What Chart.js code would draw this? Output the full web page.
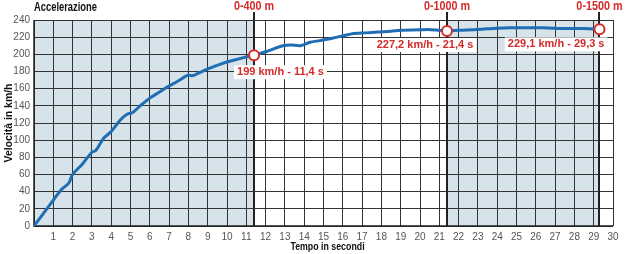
<!DOCTYPE html>
<html><head><meta charset="utf-8">
<script src="https://cdn.jsdelivr.net/npm/chart.js@4/dist/chart.umd.min.js"></script>
<style>html,body{margin:0;padding:0;background:#fff}#wrap{width:630px;height:254px}</style>
</head><body><div id="wrap"><canvas id="c" width="630" height="254"></canvas></div>
<script>
const times =  [0,0.5,1,1.4,1.8,2,2.5,3,3.2,3.6,4,4.45,4.8,5.1,5.5,6,6.5,6.9,7.4,8,8.2,8.6,9,9.6,10,10.5,11,11.4,12,12.9,13.3,13.8,14.3,14.8,15.5,16.5,17.2,17.8,18.5,19,20,20.4,21,21.4,22,23,24,24.7,25.5,26.4,27.5,28.5,29.3];
const speeds = [0,15,30,42,50,60,72,86,88,102,110,123,130,132,140,149,156,162,168,176,175,179,183,188,191,194,197,199,203,210,211,210,214,216,219,224,225,226,227,228,228.5,229,228,227.2,228,229,230.5,231,231,231,230,230,229.1];
const markTimes = [11.4,21.4,29.3];
const markSpeeds = [199,227.2,229.1];
const markLabels = ['199 km/h - 11,4 s','227,2 km/h - 21,4 s','229,1 km/h - 29,3 s'];
const distLabels = ['0-400 m','0-1000 m','0-1500 m'];
const shadeRanges = [[0,11.4],[21.4,29.3]];
const xTicks = [1,2,3,4,5,6,7,8,9,10,11,12,13,14,15,16,17,18,19,20,21,22,23,24,25,26,27,28,29,30];
const chartTitle = 'Accelerazione';
const xTitle = 'Tempo in secondi';
const yTitle = 'Velocità in km/h';

const RED = '#d42a2a';
const FONT = "'Liberation Sans',Arial,sans-serif";
const labelCfg = [
  {align:'left', dx:-17, dy:17},
  {align:'center', dx:-22, dy:14},
  {align:'right', dx:5, dy:15}
];

function condensed(ctx, text, x, y, font, sx, align, color, rot){
  ctx.save();
  ctx.translate(x,y);
  if(rot) ctx.rotate(rot);
  ctx.scale(sx,1);
  ctx.font=font; ctx.fillStyle=color; ctx.textAlign=align; ctx.textBaseline='middle';
  ctx.fillText(text,0,0);
  ctx.restore();
}

const deco = {
  id:'deco',
  beforeDraw(chart){
    const {ctx, chartArea:a, scales:{x,y}} = chart;
    ctx.save();
    ctx.fillStyle = '#d6e3eb';
    shadeRanges.forEach(r=>{
      const x0=x.getPixelForValue(r[0]), x1=x.getPixelForValue(r[1]);
      ctx.fillRect(x0,a.top,x1-x0,a.bottom-a.top);
    });
    ctx.restore();
  },
  beforeDatasetsDraw(chart){
    const {ctx, chartArea:a, scales:{x,y}} = chart;
    ctx.save();
    ctx.strokeStyle='#222'; ctx.lineWidth=1.5;
    ctx.beginPath(); ctx.moveTo(a.left,a.top); ctx.lineTo(a.left,a.bottom); ctx.lineTo(a.right,a.bottom); ctx.stroke();
    ctx.strokeStyle='#222'; ctx.lineWidth=2;
    markTimes.forEach(t=>{
      const px=Math.round(x.getPixelForValue(t));
      ctx.beginPath(); ctx.moveTo(px,12); ctx.lineTo(px,a.bottom); ctx.stroke();
    });
    ctx.restore();
    condensed(ctx, chartTitle, a.left, 8, "bold 12px "+FONT, 0.78, 'left', '#111');
    markTimes.forEach((t,i)=>{
      condensed(ctx, distLabels[i], x.getPixelForValue(t), 7, "bold 12px "+FONT, 0.9, 'center', RED);
    });
    condensed(ctx, xTitle, (a.left+a.right)/2+4, 247, "bold 11px "+FONT, 0.8, 'center', '#111');
    condensed(ctx, yTitle, 9, (a.top+a.bottom)/2, "bold 11px "+FONT, 0.95, 'center', '#111', -Math.PI/2);
  },
  afterDraw(chart){
    const {ctx, scales:{x,y}} = chart;
    ctx.save();
    ctx.font="bold 11px "+FONT; ctx.textBaseline='middle';
    markTimes.forEach((t,i)=>{
      const px=x.getPixelForValue(t), py=y.getPixelForValue(markSpeeds[i]);
      const c=labelCfg[i]; const w=ctx.measureText(markLabels[i]).width;
      let lx=px+c.dx; let left = c.align==='left'?lx:(c.align==='center'?lx-w/2:lx-w);
      const ly=py+c.dy;
      ctx.fillStyle='#fff'; ctx.fillRect(left-3,ly-7,w+6,14);
      ctx.fillStyle=RED; ctx.textAlign='left'; ctx.fillText(markLabels[i], left, ly);
    });
    ctx.restore();
  }
};

new Chart(document.getElementById('c'),{
  type:'line',
  data:{datasets:[
    {data:times.map((t,i)=>({x:t,y:speeds[i]})), borderColor:'#1f6db3', borderWidth:3, pointRadius:0, tension:0.3, order:2},
    {data:markTimes.map((t,i)=>({x:t,y:markSpeeds[i]})), showLine:false, pointRadius:5, pointBackgroundColor:'#fff', pointBorderColor:RED, pointBorderWidth:2, order:1}
  ]},
  plugins:[deco],
  options:{
    responsive:false, animation:false, events:[],
    layout:{padding:{top:20,right:17,left:0,bottom:0}},
    plugins:{legend:{display:false},tooltip:{enabled:false}},
    scales:{
      x:{type:'linear',min:0,max:30,
        afterBuildTicks(s){s.ticks=[0].concat(xTicks).map(v=>({value:v}));},
        afterFit(s){s.height=28;},
        grid:{color:'#333',lineWidth:1,drawTicks:false},
        border:{display:false},
        ticks:{padding:5,color:'#555',font:{family:FONT,size:10},maxRotation:0,autoSkip:false,callback:v=>v===0?'':String(v)}
      },
      y:{min:0,max:240,
        afterFit(s){s.width=34;},
        grid:{color:'#333',lineWidth:1,drawTicks:false},
        border:{display:false},
        ticks:{stepSize:20,padding:4,color:'#555',font:{family:FONT,size:10}}
      }
    }
  }
});
</script></body></html>
